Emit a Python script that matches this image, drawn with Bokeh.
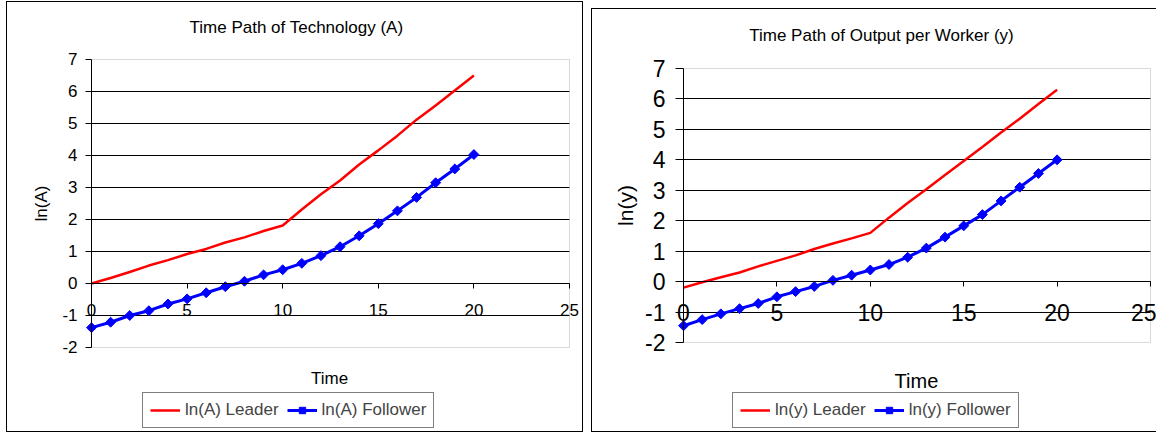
import math
from bokeh.plotting import figure
from bokeh.models import (Legend, LegendItem, FixedTicker, Range1d, LinearAxis,
                          Grid, BoxAnnotation, Label)
from bokeh.layouts import row
from bokeh.embed import file_html
from bokeh.resources import INLINE

# ---------------- data ----------------
time = list(range(21))
leader_A = [0.00, 0.17, 0.36, 0.56, 0.73, 0.92, 1.08, 1.28, 1.44, 1.64, 1.81,
            2.31, 2.79, 3.22, 3.72, 4.16, 4.62, 5.12, 5.56, 6.03, 6.50]
follower_A = [-1.38, -1.21, -1.00, -0.85, -0.64, -0.48, -0.29, -0.10, 0.07, 0.27, 0.43,
              0.63, 0.87, 1.15, 1.49, 1.87, 2.27, 2.69, 3.15, 3.58, 4.03]
leader_y = [-0.20, -0.02, 0.14, 0.30, 0.50, 0.68, 0.86, 1.07, 1.25, 1.42, 1.60,
            2.10, 2.58, 3.03, 3.50, 3.96, 4.42, 4.90, 5.35, 5.83, 6.30]
follower_y = [-1.45, -1.25, -1.06, -0.89, -0.72, -0.50, -0.33, -0.16, 0.04, 0.21, 0.38,
              0.56, 0.80, 1.10, 1.46, 1.83, 2.20, 2.65, 3.10, 3.55, 4.00]
x_ticks = [0, 5, 10, 15, 20, 25]
y_ticks = [-2, -1, 0, 1, 2, 3, 4, 5, 6, 7]

FONT = "Liberation Sans"


def make_chart(title, ylab, lead, foll, lead_name, foll_name, c):
    p = figure(width=c["w"], height=c["h"],
               x_range=Range1d(*c["xr"]), y_range=Range1d(*c["yr"]),
               x_axis_location=None, y_axis_location=None, title=None,
               output_backend="svg", toolbar_location=None, min_border=0,
               background_fill_color="white", border_fill_color="white",
               outline_line_color=None)
    p.margin = c["margin"]
    p.styles = c["styles"]
    p.xgrid.visible = False
    p.ygrid.visible = False

    x0, x1 = x_ticks[0], x_ticks[-1]
    y0, y1 = y_ticks[0], y_ticks[-1]

    # horizontal grid lines limited to the plot area
    g = Grid(dimension=1, ticker=FixedTicker(ticks=y_ticks[1:-1]),
             grid_line_color="black", grid_line_width=1)
    try:
        g.cross_bounds = (x0, x1)
        p.add_layout(g)
    except Exception:
        gy = y_ticks[1:-1]
        p.segment(x0=[x0] * len(gy), x1=[x1] * len(gy), y0=gy, y1=gy,
                  line_color="black", line_width=1, level="underlay")

    # plot-area outline
    p.add_layout(BoxAnnotation(left=x0, right=x1, bottom=y0, top=y1,
                               fill_alpha=0, line_color="#808080", line_width=1,
                               level="underlay"))

    # x axis crossing at y = 0
    xa = LinearAxis(fixed_location=0, ticker=FixedTicker(ticks=x_ticks), bounds=(x0, x1))
    xa.axis_line_color = "black"
    xa.major_tick_line_color = "black"
    xa.minor_tick_line_color = None
    xa.major_tick_in = 0
    xa.major_tick_out = 5
    xa.major_label_standoff = c["xstand"]
    xa.major_label_text_font = FONT
    xa.major_label_text_font_size = c["tick_fs"]
    xa.major_label_text_color = "black"
    p.add_layout(xa, "below")

    # y axis at x = 0
    ya = LinearAxis(fixed_location=0, ticker=FixedTicker(ticks=y_ticks), bounds=(y0, y1),
                    major_label_overrides={t: str(t) for t in y_ticks})
    ya.axis_line_color = "black"
    ya.major_tick_line_color = "black"
    ya.minor_tick_line_color = None
    ya.major_tick_in = 0
    ya.major_tick_out = c["ytick"]
    ya.major_label_standoff = c["ystand"]
    ya.major_label_text_font = FONT
    ya.major_label_text_font_size = c["tick_fs"]
    ya.major_label_text_color = "black"
    ya.axis_label = ylab
    ya.axis_label_text_font = FONT
    ya.axis_label_text_font_style = "normal"
    ya.axis_label_text_font_size = c["ylab_fs"]
    ya.axis_label_standoff = c["ylab_stand"]
    ya.axis_label_text_color = "black"
    p.add_layout(ya, "left")

    r1 = p.line(time, lead, line_color="#FF0000", line_width=2.5)
    r2 = p.line(time, foll, line_color="#0000FF", line_width=3)
    r3 = p.scatter(time, foll, marker="square", angle=math.pi / 4, size=7,
                   fill_color="#0000FF", line_color="#0000FF")

    p.add_layout(Label(x=c["title_xy"][0], y=c["title_xy"][1], text=title,
                       text_align="center", text_baseline="middle",
                       text_font=FONT, text_font_size="17px", text_color="black"))
    p.add_layout(Label(x=c["time_xy"][0], y=c["time_xy"][1], text="Time",
                       text_align="center", text_baseline="middle",
                       text_font=FONT, text_font_size=c["time_fs"], text_color="black"))

    leg = Legend(items=[LegendItem(label=lead_name, renderers=[r1]),
                        LegendItem(label=foll_name, renderers=[r2, r3])],
                 location=c["leg_loc"], orientation="horizontal",
                 border_line_color="black", border_line_width=1,
                 background_fill_color="white", background_fill_alpha=1,
                 padding=7, spacing=8, margin=0,
                 glyph_width=30, glyph_height=16, label_height=16,
                 label_standoff=5,
                 label_text_font=FONT, label_text_font_size="17px")
    p.add_layout(leg)
    return p


left_cfg = dict(w=577, h=431, margin=(1, 0, 0, 6),
                xr=(-4.393, 25.784), yr=(-4.6875, 8.781),
                styles={"border": "1px solid black", "box-sizing": "border-box"},
                xstand=16, ytick=6, ystand=8, tick_fs="17px", ylab_fs="17px", ylab_stand=8,
                title_xy=(10.72, 8.0), time_xy=(12.45, -2.97), time_fs="17px",
                leg_loc=(135, 5))
right_cfg = dict(w=565, h=424, margin=(8, 0, 0, 8),
                 xr=(-4.872, 25.375), yr=(-4.991, 8.938),
                 styles={"border-top": "1px solid black", "border-left": "1px solid black",
                         "border-bottom": "1px solid black", "box-sizing": "border-box"},
                 xstand=17, ytick=8, ystand=10, tick_fs="23px", ylab_fs="21px", ylab_stand=5,
                 title_xy=(10.6, 8.084), time_xy=(12.47, -3.28), time_fs="20px",
                 leg_loc=(140, 5))

p1 = make_chart("Time Path of Technology (A)", "ln(A)", leader_A, follower_A,
                "ln(A) Leader", "ln(A) Follower", left_cfg)
p2 = make_chart("Time Path of Output per Worker (y)", "ln(y)", leader_y, follower_y,
                "ln(y) Leader", "ln(y) Follower", right_cfg)

layout = row(p1, p2)
open("out.html", "w").write(file_html(layout, INLINE))
